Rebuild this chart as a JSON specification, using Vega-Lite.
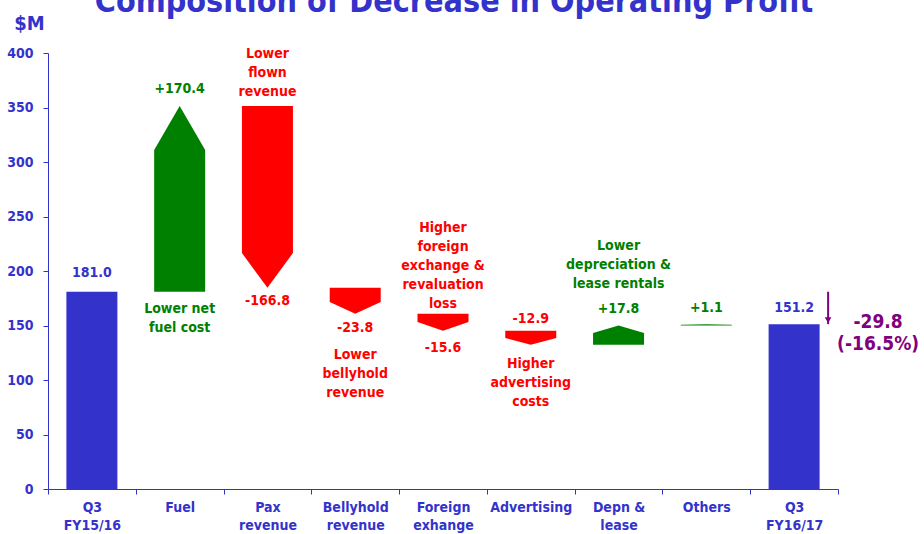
{
  "$schema": "https://vega.github.io/schema/vega-lite/v6.json",
  "width": 790,
  "height": 436,
  "autosize": "none",
  "padding": {"left": 48, "top": 53, "right": 86, "bottom": 45},
  "background": "white",
  "title": {
    "text": "Composition of Decrease in Operating Profit",
    "font": "DejaVu Sans Condensed",
    "fontWeight": "bold",
    "fontSize": 32,
    "color": "#3333CC",
    "anchor": "middle",
    "frame": "group",
    "baseline": "alphabetic",
    "offset": -31,
    "dx": 11
  },
  "config": {"view": {"stroke": null}, "font": "DejaVu Sans Condensed"},
  "resolve": {"scale": {"color": "independent"}},
  "datasets": {
    "totals": [
      {"cat": "Q3 FY15/16", "value": 181.0},
      {"cat": "Q3 FY16/17", "value": 151.2}
    ],
    "arrows": [
      {"cat": "Fuel", "dir": "up", "base": 181.0, "left": 311.0, "tip": 351.4, "right": 311.0},
      {"cat": "Pax revenue", "dir": "down", "base": 351.4, "left": 216.5, "tip": 184.6, "right": 216.5},
      {"cat": "Bellyhold revenue", "dir": "down", "base": 184.6, "left": 171.6, "tip": 160.8, "right": 171.6},
      {"cat": "Foreign exhange", "dir": "down", "base": 160.8, "left": 153.2, "tip": 145.2, "right": 153.2},
      {"cat": "Advertising", "dir": "down", "base": 145.2, "left": 138.5, "tip": 132.3, "right": 138.5},
      {"cat": "Depn & lease", "dir": "up", "base": 132.3, "left": 143.1, "tip": 150.1, "right": 143.1},
      {"cat": "Others", "dir": "up", "base": 150.1, "left": 150.7, "tip": 151.2, "right": 150.7}
    ],
    "labels": [
      {"cat": "Q3 FY15/16", "at": 194.5, "text": "181.0", "kind": "blue"},
      {"cat": "Fuel", "at": 363.3, "text": "+170.4", "kind": "green"},
      {"cat": "Fuel", "at": 161.5, "text": "Lower net\nfuel cost", "kind": "green"},
      {"cat": "Pax revenue", "at": 395.4, "text": "Lower\nflown\nrevenue", "kind": "red"},
      {"cat": "Pax revenue", "at": 168.8, "text": "-166.8", "kind": "red"},
      {"cat": "Bellyhold revenue", "at": 144.0, "text": "-23.8", "kind": "red"},
      {"cat": "Bellyhold revenue", "at": 119.3, "text": "Lower\nbellyhold\nrevenue", "kind": "red"},
      {"cat": "Foreign exhange", "at": 236.1, "text": "Higher\nforeign\nexchange &\nrevaluation\nloss", "kind": "red"},
      {"cat": "Foreign exhange", "at": 126.0, "text": "-15.6", "kind": "red"},
      {"cat": "Advertising", "at": 152.0, "text": "-12.9", "kind": "red"},
      {"cat": "Advertising", "at": 111.3, "text": "Higher\nadvertising\ncosts", "kind": "red"},
      {"cat": "Depn & lease", "at": 219.3, "text": "Lower\ndepreciation &\nlease rentals", "kind": "green"},
      {"cat": "Depn & lease", "at": 161.2, "text": "+17.8", "kind": "green"},
      {"cat": "Others", "at": 162.7, "text": "+1.1", "kind": "green"},
      {"cat": "Q3 FY16/17", "at": 162.7, "text": "151.2", "kind": "blue"}
    ],
    "change": [
      {"cat": "Q3 FY16/17", "from": 181.0, "to": 151.2, "text": "-29.8\n(-16.5%)"}
    ]
  },
  "encoding": {
    "x": {
      "field": "cat",
      "type": "nominal",
      "sort": ["Q3 FY15/16", "Fuel", "Pax revenue", "Bellyhold revenue", "Foreign exhange", "Advertising", "Depn & lease", "Others", "Q3 FY16/17"],
      "scale": {"domain": ["Q3 FY15/16", "Fuel", "Pax revenue", "Bellyhold revenue", "Foreign exhange", "Advertising", "Depn & lease", "Others", "Q3 FY16/17"], "paddingInner": 0, "paddingOuter": 0},
      "axis": {
        "title": null,
        "labelAngle": 0,
        "labelExpr": "!isValid(datum.value) ? '' : datum.value == 'Depn & lease' ? ['Depn &', 'lease'] : split(datum.value, ' ')",
        "labelFont": "DejaVu Sans Condensed",
        "labelFontWeight": "bold",
        "labelFontSize": 14,
        "labelColor": "#3333CC",
        "labelLineHeight": 18,
        "labelPadding": 6,
        "labelBaseline": "top",
        "tickBand": "extent",
        "tickSize": 5,
        "tickColor": "#3333CC",
        "domainColor": "#3333CC",
        "labelOverlap": false
      }
    }
  },
  "layer": [
    {
      "data": {"name": "totals"},
      "mark": {"type": "bar", "width": 51, "color": "#3333CC"},
      "encoding": {
        "y": {
          "field": "value",
          "type": "quantitative",
          "scale": {"domain": [0, 400], "nice": false},
          "axis": {
            "values": [0, 50, 100, 150, 200, 250, 300, 350, 400],
            "grid": false,
            "labelFont": "DejaVu Sans Condensed",
            "labelFontWeight": "bold",
            "labelFontSize": 14,
            "labelColor": "#3333CC",
            "labelPadding": 10,
            "tickSize": 5,
            "tickColor": "#3333CC",
            "domainColor": "#3333CC",
            "title": "$M",
            "titleAngle": 0,
            "titleFont": "DejaVu Sans Condensed",
            "titleFontWeight": "bold",
            "titleFontSize": 20,
            "titleColor": "#3333CC",
            "titleAlign": "center",
            "titleBaseline": "alphabetic",
            "titleX": -19,
            "titleY": -24
          }
        }
      }
    },
    {
      "data": {"name": "arrows"},
      "transform": [{"fold": ["left", "tip", "right"], "as": ["vertex", "v"]}],
      "mark": {"type": "area", "opacity": 1},
      "encoding": {
        "xOffset": {"field": "vertex", "type": "nominal", "scale": {"type": "point", "domain": ["left", "tip", "right"], "padding": 0.721}},
        "y": {"field": "v", "type": "quantitative"},
        "y2": {"field": "base"},
        "detail": {"field": "cat"},
        "color": {"field": "dir", "type": "nominal", "scale": {"domain": ["up", "down"], "range": ["#008000", "#FF0000"]}, "legend": null}
      }
    },
    {
      "data": {"name": "labels"},
      "mark": {"type": "text", "font": "DejaVu Sans Condensed", "fontWeight": "bold", "fontSize": 14, "lineBreak": "\n", "lineHeight": 19, "baseline": "alphabetic", "align": "center"},
      "encoding": {
        "y": {"field": "at", "type": "quantitative"},
        "text": {"field": "text"},
        "color": {"field": "kind", "type": "nominal", "scale": {"domain": ["blue", "green", "red"], "range": ["#3333CC", "#008000", "#FF0000"]}, "legend": null}
      }
    },
    {
      "data": {"name": "change"},
      "mark": {"type": "rule", "xOffset": 34, "color": "#800080", "strokeWidth": 2},
      "encoding": {
        "y": {"field": "from", "type": "quantitative"},
        "y2": {"field": "to"}
      }
    },
    {
      "data": {"name": "change"},
      "mark": {"type": "point", "shape": "triangle-down", "filled": true, "size": 45, "xOffset": 34, "yOffset": -4, "color": "#800080", "opacity": 1},
      "encoding": {
        "y": {"field": "to", "type": "quantitative"}
      }
    },
    {
      "data": {"name": "change"},
      "mark": {"type": "text", "font": "DejaVu Sans Condensed", "fontWeight": "bold", "fontSize": 19, "lineBreak": "\n", "lineHeight": 22, "baseline": "alphabetic", "align": "center", "dx": 84, "color": "#800080"},
      "encoding": {
        "y": {"datum": 147.7, "type": "quantitative"},
        "text": {"field": "text"}
      }
    }
  ]
}
